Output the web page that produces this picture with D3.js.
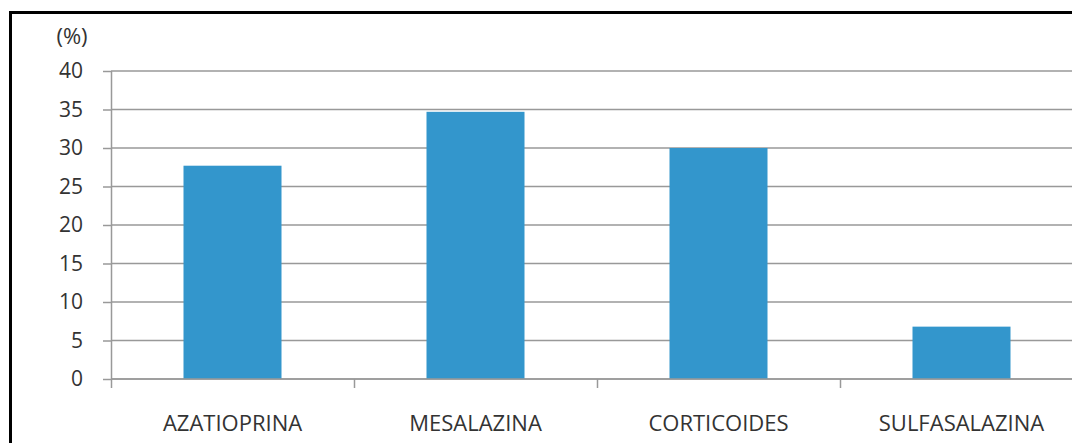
<!DOCTYPE html>
<html>
<head>
<meta charset="utf-8">
<script src="https://cdn.jsdelivr.net/npm/d3@7"></script>
<style>
  body { margin: 0; background: #fff; }
  svg { display: block; font-family: "Open Sans", "Noto Sans", sans-serif; }
</style>
</head>
<body>
<div id="chart"></div>
<script>
const categories = ['AZATIOPRINA', 'MESALAZINA', 'CORTICOIDES', 'SULFASALAZINA'];
const values = [27.7, 34.7, 30.0, 6.8];
const yTicks = [0, 5, 10, 15, 20, 25, 30, 35, 40];

const W = 1072, H = 443;
const MARGIN_LEFT = 111, MARGIN_TOP = 71, PLOT_BOTTOM = 379;
const PLOT_RIGHT = 1083; // plot runs past the picture edge

const svg = d3.select('#chart').append('svg')
  .attr('width', W).attr('height', H);

// frame
svg.append('path')
  .attr('d', `M10.5,${H} V12.5 H${W}`)
  .attr('fill', 'none').attr('stroke', '#000').attr('stroke-width', 3);

const band = d3.scaleBand().domain(categories).range([MARGIN_LEFT, PLOT_RIGHT]);
const y = d3.scaleLinear().domain([0, 40]).range([PLOT_BOTTOM, MARGIN_TOP]);

// gridlines
svg.append('g').selectAll('line').data(yTicks).join('line')
  .attr('x1', MARGIN_LEFT).attr('x2', W)
  .attr('y1', d => y(d)).attr('y2', d => y(d))
  .attr('stroke', '#999').attr('stroke-width', 1.5);

// y axis
const $yAxis = svg.append('g')
  .attr('transform', `translate(${MARGIN_LEFT},0)`)
  .call(d3.axisLeft(y).tickValues(yTicks).tickSize(8).tickPadding(20))
  .call(g => g.selectAll('line, .domain').attr('stroke', '#999').attr('stroke-width', 1.5))
  .call(g => g.attr('font-family', null).attr('font-size', null))
  .call(g => g.selectAll('text').style('font-size', '21px').attr('fill', '#333'));
$yAxis.select('.domain').attr('d', `M0.5,${MARGIN_TOP}V${PLOT_BOTTOM}`);

svg.append('text')
  .attr('x', 72).attr('y', 44)
  .attr('text-anchor', 'middle')
  .style('font-size', '22px').attr('fill', '#333')
  .text('(%)');

// bars
svg.append('g').selectAll('rect').data(values).join('rect')
  .attr('x', (d, i) => band(categories[i]) + band.bandwidth() / 2 - 49)
  .attr('width', 98)
  .attr('y', d => y(d))
  .attr('height', d => y(0) - y(d))
  .attr('fill', '#3396cc');

// x axis with ticks between categories
const boundaries = categories.map(c => band(c)).concat([PLOT_RIGHT]);
svg.append('line')
  .attr('x1', MARGIN_LEFT).attr('x2', W)
  .attr('y1', y(0)).attr('y2', y(0))
  .attr('stroke', '#999').attr('stroke-width', 1.5);
svg.append('g').selectAll('line').data(boundaries).join('line')
  .attr('x1', d => d + 0.5).attr('x2', d => d + 0.5)
  .attr('y1', y(0)).attr('y2', y(0) + 9)
  .attr('stroke', '#999').attr('stroke-width', 1.5);

svg.append('g').selectAll('text').data(categories).join('text')
  .attr('x', d => band(d) + band.bandwidth() / 2)
  .attr('y', 431)
  .attr('text-anchor', 'middle')
  .style('font-size', '22px').attr('fill', '#333')
  .text(d => d);
</script>
</body>
</html>
